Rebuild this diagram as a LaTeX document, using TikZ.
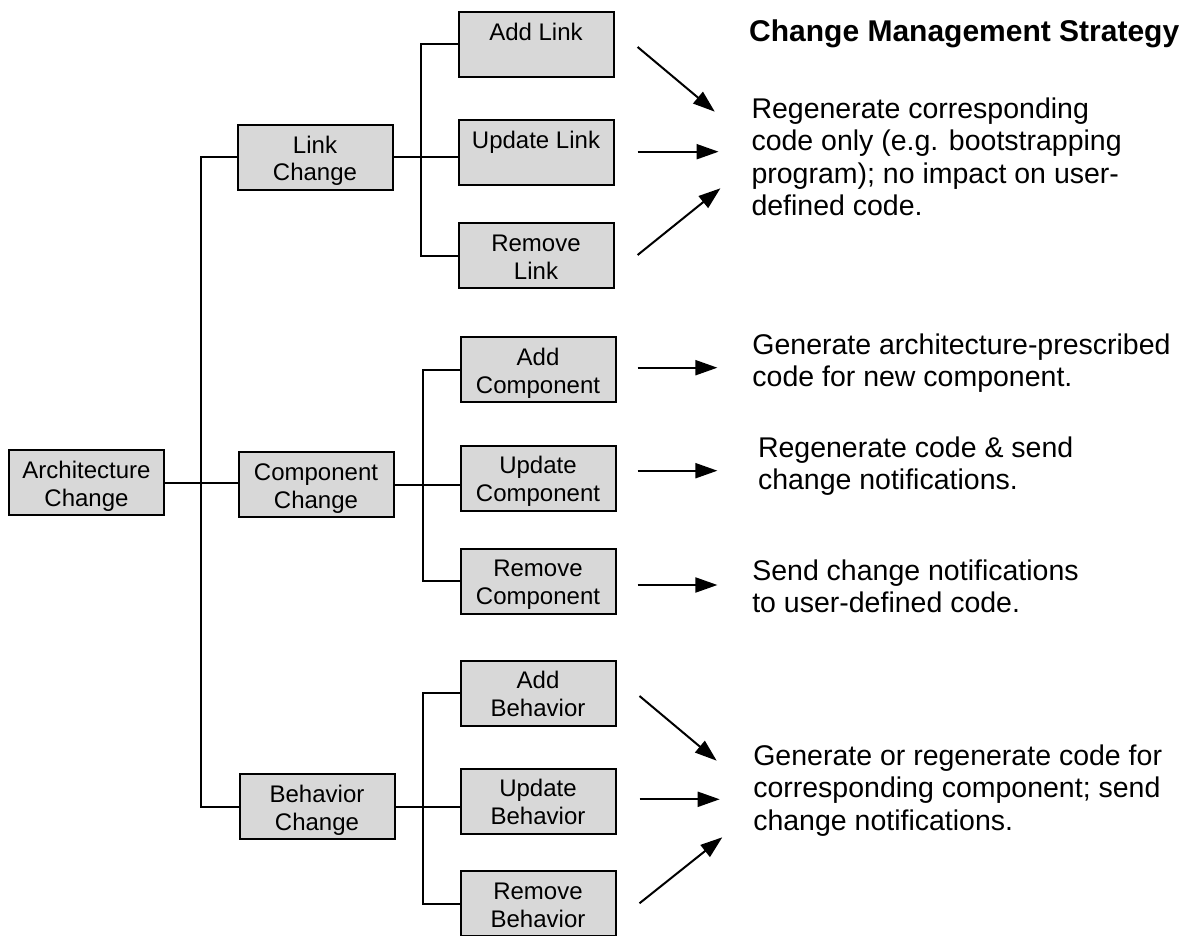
\documentclass[tikz,border=0pt]{standalone}
\usepackage{fontspec}
\setmainfont{Liberation Sans}
\usetikzlibrary{arrows.meta}
\definecolor{boxgray}{RGB}{216,216,216}
% struts that fix the first baseline and last depth of box labels
\newcommand\bxtop{\rule{0pt}{24.3pt}}
\newcommand\bxbot{\rule[-5pt]{0pt}{5pt}}
\newcommand\ntop{\rule{0pt}{25pt}}
\begin{document}
\begin{tikzpicture}[x=1pt,y=-1pt,
  box/.style={draw=black, line width=2pt, fill=boxgray, minimum width=155pt,
    minimum height=65pt, inner sep=0pt, outer sep=0pt, align=center,
    font=\fontsize{24}{27.7}\selectfont},
  wire/.style={line width=2pt},
  pointer/.style={line width=2pt, -{Triangle[length=22pt,width=15pt]}},
  note/.style={anchor=north west, inner sep=0pt, outer sep=0pt, align=left,
    font=\fontsize{28.5}{32.5}\selectfont}]
\useasboundingbox (0,0) rectangle (1187,936);

% hierarchy of changes
\node[box] (arch) at (86.5,482.5) {\bxtop Architecture\\Change\bxbot};
\node[box] (lc) at (315,157.5) {\bxtop Link\\Change\bxbot};
\node[box] (cc) at (316,484.5) {\bxtop Component\\Change\bxbot};
\node[box] (bc) at (317,806.5) {\bxtop Behavior\\Change\bxbot};

\node[box] (al) at (536,44.5) {\bxtop Add Link\\\bxbot};
\node[box] (ul) at (536,153) {\bxtop Update Link\\\bxbot};
\node[box] (rl) at (536,256) {\bxtop Remove\\Link\bxbot};

\node[box] (ac) at (538,369.5) {\bxtop Add\\Component\bxbot};
\node[box] (uc) at (538,478) {\bxtop Update\\Component\bxbot};
\node[box] (rc) at (538,581) {\bxtop Remove\\Component\bxbot};

\node[box] (ab) at (538,693) {\bxtop Add\\Behavior\bxbot};
\node[box] (ub) at (538,801) {\bxtop Update\\Behavior\bxbot};
\node[box] (rb) at (538,903.5) {\bxtop Remove\\Behavior\bxbot};

% vertical bus lines
\coordinate (trunk) at (201,0);
\coordinate (lbus) at (421,0);
\coordinate (cbus) at (423,0);
\coordinate (bbus) at (423,0);

\draw[wire] (arch.east) -- (arch.east -| cc.west);
\draw[wire] (lc.west) -- (lc.west -| trunk) -- (bc.west -| trunk) -- (bc.west);

\draw[wire] (lc.east) -- (lc.east -| ul.west);
\draw[wire] (al.west) -- (al.west -| lbus) -- (rl.west -| lbus) -- (rl.west);

\draw[wire] (cc.east) -- (cc.east -| uc.west);
\draw[wire] (ac.west) -- (ac.west -| cbus) -- (rc.west -| cbus) -- (rc.west);

\draw[wire] (bc.east) -- (bc.east -| ub.west);
\draw[wire] (ab.west) -- (ab.west -| bbus) -- (rb.west -| bbus) -- (rb.west);

% strategy texts
\node[anchor=north west, inner sep=0pt, font=\fontsize{30}{34}\selectfont\bfseries]
  (title) at (749,15.7) {\rule{0pt}{26pt}Change Management Strategy};
\node[note] (sl) at (751.5,93.3) {\ntop Regenerate corresponding\\code only (e.g. bootstrapping\\program); no impact on user-\\defined code.};
\node[note] (sca) at (752.4,329.3) {\ntop Generate architecture-prescribed\\code for new component.};
\node[note] (scu) at (758,432.3) {\ntop Regenerate code \& send\\change notifications.};
\node[note] (scr) at (752.3,555) {\ntop Send change notifications\\to user-defined code.};
\node[note] (sb) at (753.3,740) {\ntop Generate or regenerate code for\\corresponding component; send\\change notifications.};

% arrow end points
\coordinate (la1) at (637.6,47);    \coordinate (lb1) at (714.8,111.7);
\coordinate (la2) at (637.6,151.7); \coordinate (lb2) at (718.6,151.7);
\coordinate (la3) at (637.6,255);   \coordinate (lb3) at (720.4,188.3);
\coordinate (ca1) at (637.6,367.7); \coordinate (cb1) at (717.4,367.7);
\coordinate (ca2) at (637.6,470.7); \coordinate (cb2) at (717.4,470.7);
\coordinate (ca3) at (637.6,585);   \coordinate (cb3) at (717.4,585);
\coordinate (ba1) at (639.5,696);   \coordinate (bb1) at (716.7,760.7);
\coordinate (ba2) at (639.5,799.3); \coordinate (bb2) at (719.7,799.3);
\coordinate (ba3) at (639.5,903.3); \coordinate (bb3) at (722.3,837.3);

\foreach \g in {l,c,b}{
  \foreach \i in {1,2,3}{
    \draw[pointer] (\g a\i) -- (\g b\i);
  }
}
\end{tikzpicture}
\end{document}
